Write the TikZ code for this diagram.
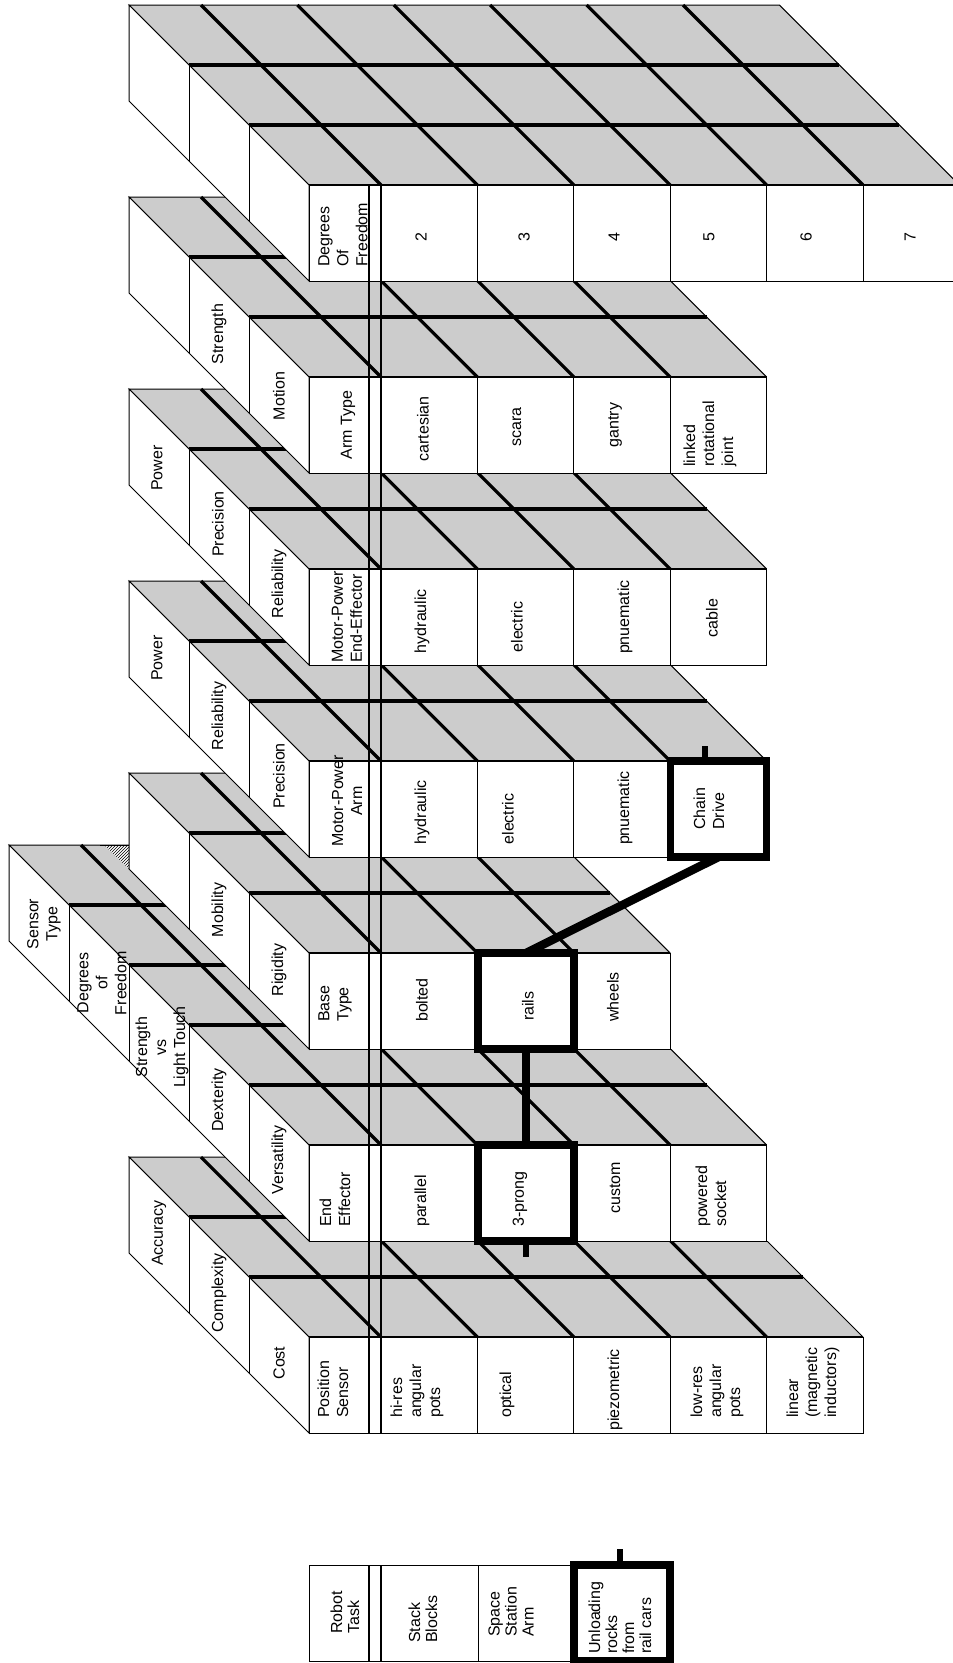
\documentclass[tikz,border=0pt]{standalone}
\usepackage{fontspec}
\setmainfont{Liberation Sans}
\usetikzlibrary{patterns}
\definecolor{facegray}{RGB}{204,204,204}

% #1 front top y, #2 layers, #3 data cells, #4 y above which the face is hidden right of x=309
\newcommand\mblock[4]{%
  \pgfmathsetmacro\xR{381+96.4*#3}%
  \pgfmathsetmacro\D{60*#2}%
  \pgfmathtruncatemacro\nm{#3-1}%
  \pgfmathtruncatemacro\Lm{#2-1}%
  \begin{scope}
    \clip (-100,-100) -- (309,-100) -- (309,#4) -- (1100,#4) -- (1100,1800) -- (-100,1800) -- cycle;
    \fill[facegray] (309,#1) -- (\xR,#1) -- (\xR-\D,#1-\D) -- (309-\D,#1-\D) -- cycle;
    \foreach \i in {0,...,\nm} \draw[gridln] ({381+96.4*\i},#1) -- ++(-\D,-\D);
    \foreach \k in {1,...,\Lm} \draw[gridln] ({309-60*\k},{#1-60*\k}) -- ({\xR-60*\k},{#1-60*\k});
    \draw[thinln] (309,#1) -- (309-\D,#1-\D) -- (\xR-\D,#1-\D) -- (\xR,#1);
  \end{scope}
  \filldraw[thinln, fill=white] (309,#1) -- (309,#1+96) -- (309-\D,#1+96-\D) -- (309-\D,#1-\D) -- cycle;
  \foreach \k in {1,...,\Lm} \draw[thinln] ({309-60*\k},{#1-60*\k}) -- ++(0,96);
  \filldraw[thinln, fill=white] (309,#1) rectangle (\xR,#1+96);
  \foreach \i in {1,...,\nm} \draw[thinln] ({381+96.4*\i},#1) -- ++(0,96);
  \draw[topln] (309,#1) -- (\xR,#1);
}

\begin{document}
\begin{tikzpicture}[x=1pt,y=-1pt,
  thinln/.style={line width=1pt},
  topln/.style={line width=2pt},
  gridln/.style={line width=3.2pt},
  dblln/.style={line width=2.2pt},
  selbox/.style={draw, line width=7.5pt, minimum width=96.4pt, minimum height=96pt, inner sep=0pt, outer sep=0pt},
  connln/.style={line width=8.5pt},
  stubln/.style={line width=6pt},
  celltxt/.style={rotate=90, inner sep=0pt, font=\fontsize{16}{19}\selectfont, align=center},
  celltxtl/.style={celltxt, align=left, anchor=west},
  robtxt/.style={celltxtl, font=\fontsize{16}{17}\selectfont},
]
\useasboundingbox (0,0) rectangle (953,1663);
\clip (0,0) rectangle (953,1663);
\fill[white] (0,0) rectangle (953,1663);

% ---------- Position Sensor ----------
\mblock{1337}{3}{5}{1241}
\node[celltxt] (l-cost) at (279,1363) {Cost};
\node[celltxt] (l-complex) at (219,1293) {Complexity};
\node[celltxt] (l-accur) at (159,1233) {Accuracy};
\node[celltxtl] (ps-h) at (333,1418) {Position\\Sensor};
\node[celltxtl] (ps-1) at (417,1418) {hi-res\\angular\\pots};
\node[celltxtl] (ps-2) at (507,1418) {optical};
\node[celltxtl] (ps-3) at (615,1431) {piezometric};
\node[celltxtl] (ps-4) at (717,1418) {low-res\\angular\\pots};
\node[celltxtl] (ps-5) at (813,1418) {linear\\(magnetic\\inductors)};

% ---------- End Effector ----------
\mblock{1145}{5}{4}{1049}
\node[celltxt] (l-vers) at (279,1160) {Versatility};
\node[celltxt] (l-dext) at (219,1100) {Dexterity};
\node[celltxt] (l-strength) at (162,1047) {Strength\\vs\\Light Touch};
\node[celltxt] (l-dof) at (102,983) {Degrees\\of\\Freedom};
\node[celltxt] (l-sensor) at (44,924) {Sensor\\Type};
\node[celltxtl] (ee-h) at (335,1227) {End\\Effector};
\node[celltxtl] (ee-1) at (422,1227) {parallel};
\node[celltxtl] (ee-2) at (520,1227) {3-prong};
\node[celltxt] (ee-3) at (615,1188) {custom};
\node[celltxtl] (ee-4) at (711,1227) {powered\\socket};
\fill[white] (104,845) -- (129,845) -- (129,869) -- cycle;
\fill[pattern=north east lines] (104,845) -- (129,845) -- (129,869) -- cycle;
\draw[thinln] (100,845) -- (129,845);

% ---------- Base Type ----------
\mblock{953}{3}{3}{857}
\node[celltxt] (l-rig) at (279,970) {Rigidity};
\node[celltxt] (l-mob) at (219,910) {Mobility};
\node[celltxtl] (bt-h) at (335,1022) {Base\\Type};
\node[celltxtl] (bt-1) at (422,1022) {bolted};
\node[celltxtl] (bt-2) at (528,1021) {rails};
\node[celltxtl] (bt-3) at (613,1022) {wheels};

% ---------- Motor-Power Arm ----------
\mblock{761}{3}{4}{665}
\node[celltxt] (l-prec1) at (279,776) {Precision};
\node[celltxt] (l-rel1) at (219,716) {Reliability};
\node[celltxt] (l-pow1) at (157,658) {Power};
\node[celltxt] (ma-h) at (347,801) {Motor-Power\\Arm};
\node[celltxt] (ma-1) at (422,812) {hydraulic};
\node[celltxt] (ma-2) at (508,819) {electric};
\node[celltxt] (ma-3) at (625,808) {pnuematic};
\node[celltxtl] (ma-4) at (709,830) {Chain\\Drive};

% ---------- Motor-Power End-Effector ----------
\mblock{569}{3}{4}{473}
\node[celltxt] (l-rel2) at (279,584) {Reliability};
\node[celltxt] (l-prec2) at (218,524) {Precision};
\node[celltxt] (l-pow2) at (157,468) {Power};
\node[celltxtl] (me-h) at (347,663) {Motor-Power\\End-Effector};
\node[celltxt] (me-1) at (422,621) {hydraulic};
\node[celltxt] (me-2) at (517,627) {electric};
\node[celltxt] (me-3) at (625,617) {pnuematic};
\node[celltxt] (me-4) at (712,618) {cable};

% ---------- Arm Type ----------
\mblock{377}{3}{4}{281}
\node[celltxt] (l-motion) at (279,396) {Motion};
\node[celltxt] (l-str2) at (219,334) {Strength};
\node[celltxt] (at-h) at (348,425) {Arm Type};
\node[celltxt] (at-1) at (423,429) {cartesian};
\node[celltxt] (at-2) at (517,427) {scara};
\node[celltxt] (at-3) at (615,425) {gantry};
\node[celltxtl] (at-4) at (710,467) {linked\\rotational\\joint};

% ---------- Degrees of Freedom ----------
\mblock{185}{3}{6}{-100}
\node[celltxtl] (df-h) at (343,267) {Degrees\\Of\\Freedom};
\node[celltxt] (df-1) at (421,237) {2};
\node[celltxt] (df-2) at (524,237) {3};
\node[celltxt] (df-3) at (614,237) {4};
\node[celltxt] (df-4) at (709,237) {5};
\node[celltxt] (df-5) at (806,237) {6};
\node[celltxt] (df-6) at (910,237) {7};

% ---------- header separator (double line) ----------
\draw[dblln] (369,185) -- (369,1433);
\draw[dblln] (381,185) -- (381,1433);

% ---------- Robot Task ----------
\filldraw[thinln, fill=white] (309,1565) rectangle (670,1661);
\draw[thinln] (478,1565) -- (478,1661);
\draw[thinln] (574,1565) -- (574,1661);
\draw[dblln] (369,1565) -- (369,1661);
\draw[dblln] (381,1565) -- (381,1661);
\node[robtxt] (rt-h) at (345,1634) {Robot\\Task};
\node[robtxt] (rt-1) at (423,1643) {Stack\\Blocks};
\node[robtxt] (rt-2) at (511,1637) {Space\\Station\\Arm};
\node[robtxt] (rt-3) at (620,1654) {Unloading\\rocks\\from\\rail cars};

% ---------- selected path ----------
\node[selbox] (prong) at (526,1193) {};
\node[selbox] (rails) at (526,1001) {};
\node[selbox] (chain) at (718.5,809) {};
\node[selbox] (unload) at (622,1613) {};
\draw[connln] (prong.north) -- (rails.south);
\draw[connln] (rails.north) -- (chain.south);
\coordinate (ps-stub) at (526,1257);
\coordinate (ch-stub) at (705,746);
\coordinate (ul-stub) at (620,1549);
\draw[stubln] (prong.south) -- (ps-stub);
\draw[stubln] (ch-stub |- chain.north) -- (ch-stub);
\draw[stubln] (ul-stub |- unload.north) -- (ul-stub);
\end{tikzpicture}
\end{document}
